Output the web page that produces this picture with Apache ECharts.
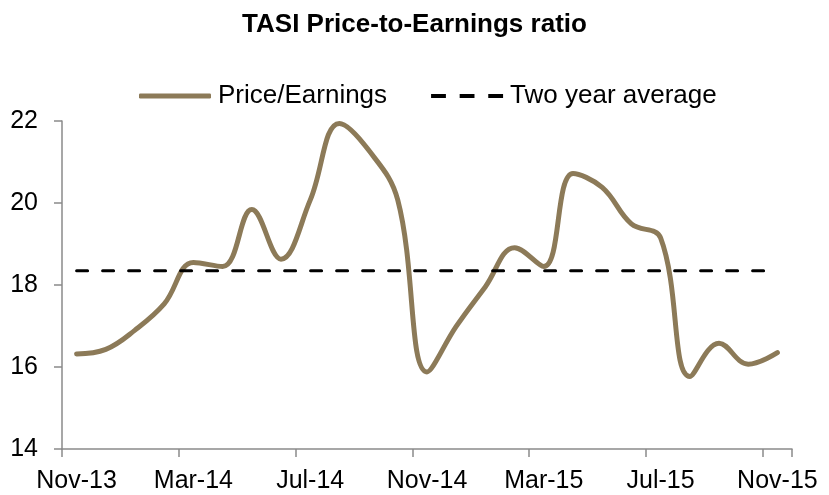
<!DOCTYPE html>
<html>
<head>
<meta charset="utf-8">
<script src="https://cdn.jsdelivr.net/npm/echarts@6/dist/echarts.min.js"></script>
<style>
  html, body { margin: 0; padding: 0; background: #fff; }
  #grafico { width: 829px; height: 495px; }
</style>
</head>
<body>
<div id="grafico"></div>
<script>
// meses (eixo de categorias, um ponto por mês)
const meses = ['Nov-13', 'Dec-13', 'Jan-14', 'Feb-14', 'Mar-14', 'Apr-14', 'May-14', 'Jun-14',
    'Jul-14', 'Aug-14', 'Sep-14', 'Oct-14', 'Nov-14', 'Dec-14', 'Jan-15', 'Feb-15',
    'Mar-15', 'Apr-15', 'May-15', 'Jun-15', 'Jul-15', 'Aug-15', 'Sep-15', 'Oct-15', 'Nov-15'];

const precoLucro = [16.32, 16.43, 16.9, 17.54, 18.55, 18.45, 19.84, 18.63,
    20.07, 21.94, 21.29, 20.07, 15.88, 16.99, 17.96, 18.91,
    18.45, 20.72, 20.38, 19.49, 19.15, 15.77, 16.58, 16.07, 16.35];

// média de dois anos (constante)
const mediaDoisAnos = meses.map(() => 18.35);

const corLinha = '#8C7A58';
const corEixo = '#8a8a8a';
const fonte = '"Liberation Sans", Arial, sans-serif';

// ícone tracejado da legenda (3 traços)
const iconeTracejado = 'path://M0,0h14v4h-14z M27,0h14v4h-14z M54,0h14v4h-14z';

const grafico = echarts.init(document.getElementById('grafico'));

const option = {
    animation: false,
    backgroundColor: '#fff',
    title: {
        text: 'TASI Price-to-Earnings ratio',
        left: 'center',
        top: 7,
        textStyle: { fontFamily: fonte, fontSize: 26, fontWeight: 'bold', color: '#000' }
    },
    legend: {
        top: 78,
        left: 134,
        itemWidth: 72,
        itemHeight: 5,
        itemGap: 44,
        textStyle: { fontFamily: fonte, fontSize: 26, color: '#000', padding: [0, 0, 0, 2] },
        data: [
            { name: 'Price/Earnings', icon: 'roundRect' },
            { name: 'Two year average', icon: iconeTracejado }
        ]
    },
    grid: { left: 62, right: 37, top: 121, bottom: 46 },
    xAxis: {
        type: 'category',
        data: meses,
        boundaryGap: true,
        axisLine: { lineStyle: { color: corEixo, width: 1.5 } },
        axisTick: { show: true, interval: 3, length: 8, lineStyle: { color: corEixo, width: 1.5 } },
        axisLabel: { interval: 3, margin: 20, fontFamily: fonte, fontSize: 25, color: '#000' },
        splitLine: { show: false }
    },
    yAxis: {
        type: 'value',
        min: 14,
        max: 22,
        interval: 2,
        axisLine: { show: true, lineStyle: { color: corEixo, width: 1.5 } },
        axisTick: { show: true, length: 8, lineStyle: { color: corEixo, width: 1.5 } },
        axisLabel: { margin: 24, fontFamily: fonte, fontSize: 25, color: '#000' },
        splitLine: { show: false }
    },
    series: [
        {
            name: 'Price/Earnings',
            type: 'line',
            data: precoLucro,
            smooth: 0.4,
            symbol: 'none',
            color: corLinha,
            lineStyle: { color: corLinha, width: 5, cap: 'round', join: 'round' }
        },
        {
            name: 'Two year average',
            type: 'line',
            data: mediaDoisAnos,
            symbol: 'none',
            color: '#000',
            lineStyle: { color: '#000', width: 3, type: [11, 15], cap: 'round' }
        }
    ]
};

grafico.setOption(option);
</script>
</body>
</html>
